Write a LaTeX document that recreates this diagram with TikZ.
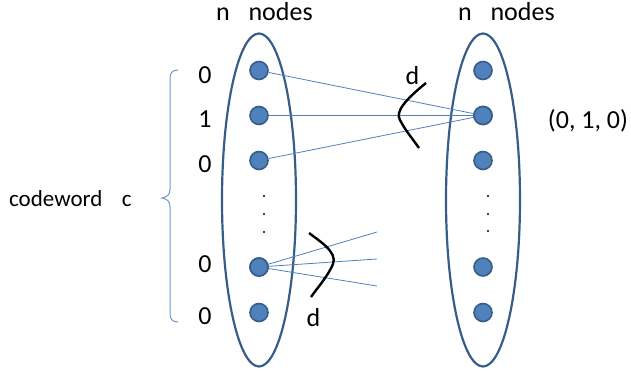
\documentclass[tikz,border=0pt]{standalone}
\usepackage{fontspec}
\setmainfont{Carlito}
\usetikzlibrary{shapes.geometric}
\begin{document}
\begin{tikzpicture}[x=1pt,y=-1pt,
  dotnode/.style={circle,fill=nodefill,draw=nodeedge,line width=1.6pt,minimum size=18pt,inner sep=0pt},
  group/.style={ellipse,draw=nodeedge,line width=2.2pt,minimum width=74pt,minimum height=333pt,inner sep=0pt},
  link/.style={draw=nodefill,line width=0.8pt},
  arcline/.style={draw=black,line width=2.4pt},
  lbl/.style={font=\fontsize{26}{30}\selectfont,inner sep=0pt},
  vdot/.style={circle,fill=black,minimum size=2.2pt,inner sep=0pt}]
\definecolor{nodefill}{HTML}{4F81BD}
\definecolor{nodeedge}{HTML}{385D8A}
\definecolor{bracecol}{HTML}{6A97CF}
\useasboundingbox (0,0) rectangle (631,371);
% ellipses
\node[group] (E1) at (259,200) {};
\node[group] (E2) at (483,200) {};
% left nodes
\node[dotnode] (L0) at (259,70.5) {};
\node[dotnode] (L1) at (259,115.5) {};
\node[dotnode] (L2) at (259,160.5) {};
\node[dotnode] (L3) at (259,267) {};
\node[dotnode] (L4) at (259,312.5) {};
% right nodes
\node[dotnode] (R0) at (483,70.5) {};
\node[dotnode] (R1) at (483,115.5) {};
\node[dotnode] (R2) at (483,160.5) {};
\node[dotnode] (R3) at (483,267) {};
\node[dotnode] (R4) at (483,312.5) {};
% vertical dots
\node[vdot] (ld1) at (264,196) {};
\node[vdot] (ld2) at (264,214) {};
\node[vdot] (ld3) at (264,232) {};
\node[vdot] (rd1) at (488,196) {};
\node[vdot] (rd2) at (488,214) {};
\node[vdot] (rd3) at (488,231) {};
% connectors
\draw[link] (L0) -- (R1.center);
\draw[link] (L1) -- (R1.center);
\draw[link] (L2) -- (R1.center);
\coordinate (f1) at (377,232);
\coordinate (f2) at (377,259);
\coordinate (f3) at (377,286);
\draw[link] (L3.center) -- (f1);
\draw[link] (L3.center) -- (f2);
\draw[link] (L3.center) -- (f3);
\node[dotnode] at (L3.center) {};
\node[dotnode] at (R1.center) {};
% degree arcs
\draw[arcline] (426,83) .. controls (405,100) and (395,112) .. (400,120) .. controls (405,130) and (412,138) .. (419,148);
\draw[arcline] (309,233) .. controls (318,240) and (338,252) .. (333,264) .. controls (328,276) and (318,287) .. (311,297);
% labels
\node[lbl,anchor=base west] (t1) at (216,21) {n\hspace{0.72em}nodes};
\node[lbl,anchor=base west] (t2) at (458,21) {n\hspace{0.72em}nodes};
\node[lbl] (b0) at (205,75.5) {0};
\node[lbl] (b1) at (205,119.5) {1};
\node[lbl] (b2) at (205,164.5) {0};
\node[lbl] (b3) at (205,264) {0};
\node[lbl] (b4) at (205,316.5) {0};
\node[lbl] (vec) at (588,121) {(0, 1, 0)};
\node[lbl] (d1) at (412.5,75.5) {d};
\node[lbl] (d2) at (313.5,318) {d};
\node[lbl,font=\fontsize{23}{26}\selectfont,anchor=base west] (cw) at (9,207) {codeword\hspace{0.85em}c};
% brace
\draw[draw=bracecol,line width=1pt] (178,70) .. controls (172,70) and (170,73) .. (170,79)
  -- (170,189) .. controls (170,195) and (167,197) .. (162,198)
  .. controls (167,199) and (170,201) .. (170,207)
  -- (170,313) .. controls (170,319) and (172,322) .. (178,322);
\end{tikzpicture}
\end{document}
